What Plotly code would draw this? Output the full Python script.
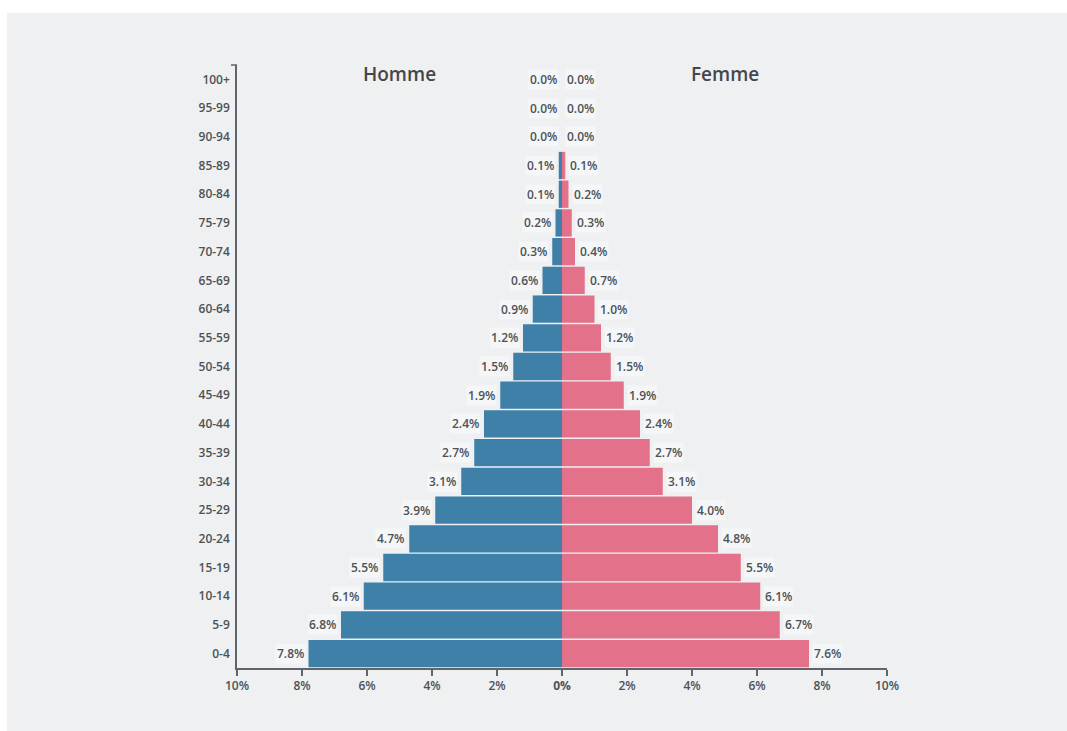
import plotly.graph_objects as go

# Age groups, youngest first (bottom of the pyramid)
age_groups = ["0-4", "5-9", "10-14", "15-19", "20-24", "25-29", "30-34", "35-39",
              "40-44", "45-49", "50-54", "55-59", "60-64", "65-69", "70-74",
              "75-79", "80-84", "85-89", "90-94", "95-99", "100+"]

# Share of total population (%)
hommes = [7.8, 6.8, 6.1, 5.5, 4.7, 3.9, 3.1, 2.7, 2.4, 1.9, 1.5, 1.2, 0.9, 0.6,
          0.3, 0.2, 0.1, 0.1, 0.0, 0.0, 0.0]
femmes = [7.6, 6.7, 6.1, 5.5, 4.8, 4.0, 3.1, 2.7, 2.4, 1.9, 1.5, 1.2, 1.0, 0.7,
          0.4, 0.3, 0.2, 0.1, 0.0, 0.0, 0.0]

x_ticks = [-10, -8, -6, -4, -2, 0, 2, 4, 6, 8, 10]
x_tick_text = ["10%", "8%", "6%", "4%", "2%", "<b>0%</b>", "2%", "4%", "6%", "8%", "10%"]

BLUE = "#3f80a9"
PINK = "#e3718a"
BG = "#eff0f2"
TEXT = "#4d5257"
AXIS = "#60656b"
FONT = "Open Sans"

fig = go.Figure()
fig.add_trace(go.Bar(
    y=age_groups, x=[-v for v in hommes], orientation="h", name="Homme",
    marker=dict(color=BLUE, line=dict(width=0)), hoverinfo="skip",
))
fig.add_trace(go.Bar(
    y=age_groups, x=femmes, orientation="h", name="Femme",
    marker=dict(color=PINK, line=dict(width=0)), hoverinfo="skip",
))

label_font = dict(family=FONT, size=12, color=TEXT, weight=600)
annotations = []
for age, m, f in zip(age_groups, hommes, femmes):
    annotations.append(dict(
        x=-m, y=age, xref="x", yref="y", text=f"{m:.1f}%", showarrow=False,
        xanchor="right", xshift=-3, font=label_font,
        bgcolor="rgba(255,255,255,0.4)", borderpad=1,
    ))
    annotations.append(dict(
        x=f, y=age, xref="x", yref="y", text=f"{f:.1f}%", showarrow=False,
        xanchor="left", xshift=3, font=label_font,
        bgcolor="rgba(255,255,255,0.4)", borderpad=1,
    ))

# Side headings
heading_font = dict(family=FONT, size=19, color="#43474d", weight=600)
annotations.append(dict(x=-5, y=1, xref="x", yref="paper", yshift=-9, yanchor="middle",
                        text="Homme", showarrow=False, font=heading_font))
annotations.append(dict(x=5, y=1, xref="x", yref="paper", yshift=-9, yanchor="middle",
                        text="Femme", showarrow=False, font=heading_font))

fig.update_layout(
    width=1067, height=731,
    margin=dict(l=237, r=180, t=65, b=63),
    paper_bgcolor=BG, plot_bgcolor=BG,
    barmode="overlay", bargap=0.05,
    showlegend=False,
    annotations=annotations,
    xaxis=dict(
        range=[-10, 10], tickvals=x_ticks, ticktext=x_tick_text,
        showgrid=False, zeroline=False, showline=True, linecolor=AXIS, linewidth=1.5,
        ticks="outside", ticklen=6, tickwidth=1.5, tickcolor=AXIS,
        tickfont=dict(family=FONT, size=12, color=TEXT, weight=600), fixedrange=True,
    ),
    yaxis=dict(
        categoryorder="array", categoryarray=age_groups,
        showgrid=False, zeroline=False, showline=True, linecolor=AXIS, linewidth=1.5,
        ticks="", ticklabelstandoff=3,
        tickfont=dict(family=FONT, size=12, color=TEXT, weight=600), fixedrange=True,
    ),
    shapes=[
        # outer tick at the top of the age axis
        dict(type="line", xref="paper", yref="paper", xsizemode="pixel", xanchor=0,
             x0=-6, x1=0, y0=1, y1=1, line=dict(color=AXIS, width=1.5)),
    ],
)

# White strips along the top and left of the page
fig.add_shape(type="rect", xref="paper", yref="paper", xsizemode="pixel", ysizemode="pixel",
              xanchor=0, yanchor=1, x0=-237, x1=830, y0=65, y1=52,
              fillcolor="white", line=dict(width=0), layer="above")
fig.add_shape(type="rect", xref="paper", yref="paper", xsizemode="pixel", ysizemode="pixel",
              xanchor=0, yanchor=1, x0=-237, x1=-230, y0=65, y1=-700,
              fillcolor="white", line=dict(width=0), layer="above")

fig.write_html("out.html", config={"displayModeBar": False})
